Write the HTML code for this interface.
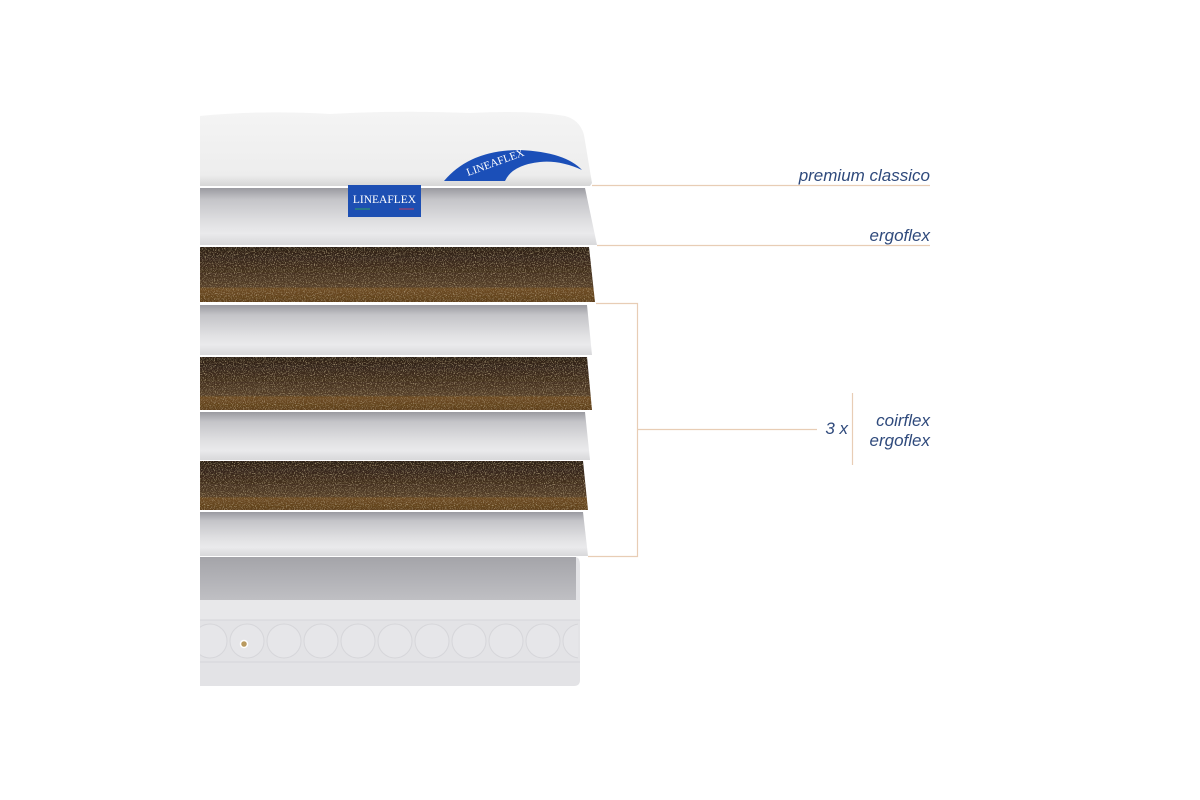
<!DOCTYPE html>
<html><head><meta charset="utf-8"><style>
html,body{margin:0;padding:0;background:#fff;}
svg{display:block}
text{font-family:"Liberation Sans",sans-serif;font-style:italic;fill:#2f4a7c;}
</style></head><body>
<svg width="1200" height="800" viewBox="0 0 1200 800" xmlns="http://www.w3.org/2000/svg">
<defs>
<linearGradient id="wh" x1="0" y1="0" x2="0" y2="1">
<stop offset="0" stop-color="#9a9aa0"/><stop offset="0.2" stop-color="#c4c4c8"/><stop offset="0.6" stop-color="#e0e0e2"/><stop offset="0.8" stop-color="#eaeaec"/><stop offset="1" stop-color="#d8d8da"/></linearGradient>
<linearGradient id="top" x1="0" y1="0" x2="0" y2="1">
<stop offset="0" stop-color="#f4f4f4"/><stop offset="0.85" stop-color="#ededed"/><stop offset="1" stop-color="#d6d6d6"/></linearGradient>
<linearGradient id="coir" x1="0" y1="0" x2="0" y2="1">
<stop offset="0" stop-color="#2c1f17"/><stop offset="0.45" stop-color="#44301f"/><stop offset="0.72" stop-color="#56402a"/><stop offset="0.76" stop-color="#6e4c22"/><stop offset="1" stop-color="#5e401d"/></linearGradient>
<filter id="tex" x="0" y="0" width="1" height="1">
<feTurbulence type="fractalNoise" baseFrequency="0.9" numOctaves="2" result="n"/>
<feColorMatrix in="n" type="matrix" values="0 0 0 0 0.78  0 0 0 0 0.62  0 0 0 0 0.36  0 0 0 1.6 -0.85" result="c"/>
<feComposite in="c" in2="SourceGraphic" operator="in" result="d"/>
<feMerge><feMergeNode in="SourceGraphic"/><feMergeNode in="d"/></feMerge>
</filter>
<linearGradient id="base" x1="0" y1="0" x2="0" y2="1">
<stop offset="0" stop-color="#a4a4a9"/><stop offset="1" stop-color="#c0c0c4"/></linearGradient>
<clipPath id="bc"><rect x="200" y="600" width="378" height="90"/></clipPath>
</defs>

<!-- base -->
<path d="M200 557 H575 Q580 557 580 565 V680 Q580 686 574 686 H200 Z" fill="#e3e3e6"/>
<rect x="200" y="557" width="376" height="44" fill="url(#base)"/>
<rect x="200" y="600" width="380" height="20" fill="#e8e8ea"/>
<line x1="200" y1="620" x2="580" y2="620" stroke="#d6d6da"/>
<line x1="200" y1="662" x2="580" y2="662" stroke="#d6d6da"/>
<g fill="#e6e6e9" stroke="#d6d6da" clip-path="url(#bc)">
<circle cx="210" cy="641" r="17"/><circle cx="247" cy="641" r="17"/><circle cx="284" cy="641" r="17"/><circle cx="321" cy="641" r="17"/><circle cx="358" cy="641" r="17"/><circle cx="395" cy="641" r="17"/><circle cx="432" cy="641" r="17"/><circle cx="469" cy="641" r="17"/><circle cx="506" cy="641" r="17"/><circle cx="543" cy="641" r="17"/><circle cx="580" cy="641" r="17"/>
</g>
<circle cx="244" cy="644" r="3.5" fill="#b99a60" stroke="#fff" stroke-width="1.5"/>

<!-- layers bottom to top -->
<path d="M200 512 H583 L588 556 H200 Z" fill="url(#wh)"/>
<path d="M200 461 H583 L588 510 H200 Z" fill="url(#coir)" filter="url(#tex)"/>
<path d="M200 412 H585 L590 460 H200 Z" fill="url(#wh)"/>
<path d="M200 357 H587 L592 410 H200 Z" fill="url(#coir)" filter="url(#tex)"/>
<path d="M200 305 H587 L592 355 H200 Z" fill="url(#wh)"/>
<path d="M200 247 H589 L595 302 H200 Z" fill="url(#coir)" filter="url(#tex)"/>
<path d="M200 188 H585 L597 245 H200 Z" fill="url(#wh)"/>
<!-- top topper -->
<path d="M200 116 Q260 110 330 114 Q400 110 470 113 Q530 110 565 116 Q580 120 584 135 L592 183 L590 186 H200 Z" fill="url(#top)"/>
<path d="M444 181 Q470 150 520 150 Q565 152 582 170 Q560 160 540 162 Q512 165 505 181 Z" fill="#1b4fb8"/>
<text x="468" y="176" transform="rotate(-20 468 176)" style="font-style:normal;fill:#fff;font-family:'Liberation Serif',serif;font-size:11px">LINEAFLEX</text>
<!-- label -->
<rect x="348" y="185" width="73" height="32" fill="#1d4fb3"/>
<text x="384.5" y="203" text-anchor="middle" style="font-style:normal;fill:#fff;font-family:'Liberation Serif',serif;font-size:11.5px">LINEAFLEX</text>
<line x1="355" y1="209" x2="370" y2="209" stroke="#2fa060"/><line x1="399" y1="209" x2="414" y2="209" stroke="#c04060"/>

<!-- leader lines -->
<g stroke="#e8cdb5" stroke-width="1.2" fill="none">
<line x1="592" y1="185.5" x2="930" y2="185.5"/>
<line x1="597" y1="245.5" x2="930" y2="245.5"/>
<polyline points="596,303.5 637.5,303.5 637.5,556.5 588,556.5"/>
<line x1="637" y1="429.5" x2="817" y2="429.5"/>
<line x1="852.5" y1="393" x2="852.5" y2="465"/>
</g>
<text x="930" y="181" text-anchor="end" font-size="17">premium classico</text>
<text x="930" y="241" text-anchor="end" font-size="17">ergoflex</text>
<text x="848" y="434" text-anchor="end" font-size="17">3 x</text>
<text x="930" y="426" text-anchor="end" font-size="17">coirflex</text>
<text x="930" y="446" text-anchor="end" font-size="17">ergoflex</text>
</svg>
</body></html>
